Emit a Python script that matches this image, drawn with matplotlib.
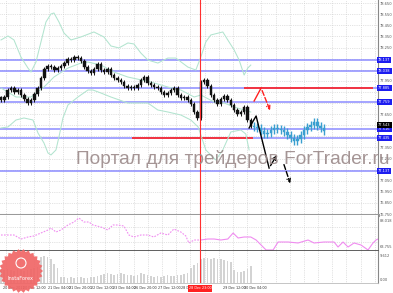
import numpy as np
import matplotlib
matplotlib.use("Agg")
import matplotlib.pyplot as plt
from matplotlib import transforms as mtrans
from matplotlib.patches import Polygon, Ellipse

# ---- данные ----
closes = [77.777, 77.804, 77.867, 77.885, 77.849, 77.867, 77.822, 77.786, 77.750, 77.777,
          77.831, 77.885, 77.975, 78.056, 78.083, 78.074, 78.047, 78.065, 78.083, 78.110,
          78.146, 78.137, 78.164, 78.155, 78.128, 78.074, 78.038, 78.020, 78.056, 78.101,
          78.047, 78.029, 78.056, 78.002, 77.975, 77.957, 77.939, 77.903, 77.885, 77.894,
          77.885, 77.912, 77.957, 77.984, 77.930, 77.912, 77.894, 77.885, 77.849, 77.822,
          77.840, 77.867, 77.885, 77.822, 77.795, 77.804, 77.777, 77.741, 77.669, 77.615,
          77.939, 77.957, 77.903, 77.822, 77.777, 77.741, 77.786, 77.813, 77.777, 77.732,
          77.687, 77.651, 77.669, 77.714, 77.597, 77.543]
forecast = [77.534, 77.525, 77.498, 77.471, 77.480, 77.507, 77.525, 77.516, 77.507, 77.489,
            77.462, 77.435, 77.408, 77.426, 77.462, 77.507, 77.534, 77.552, 77.579, 77.543,
            77.525, 77.498]
volumes = [4.2, 4.0, 4.4, 4.1, 3.8, 4.3, 4.0, 3.6, 3.9, 4.2, 4.5, 5.0,
           8.0, 8.4, 8.1, 7.4, 6.0, 4.6,
           2.0, 1.8, 1.7, 1.9, 1.6, 1.8, 2.0, 1.7, 1.6, 1.9, 1.8, 2.1,
           2.5, 2.7, 3.0, 2.8, 2.6, 2.9, 3.1, 2.8, 2.5,
           2.4, 2.2, 2.6, 3.0, 2.7, 2.4, 2.2, 2.0, 2.3,
           2.0, 2.2, 2.5, 2.3, 2.1, 2.4, 2.6, 2.8, 3.0,
           4.5, 5.5, 6.2,
           7.3, 7.6, 7.7, 7.4, 7.8, 7.5, 7.3, 7.0, 6.8, 6.4,
           4.0, 3.5, 3.3, 3.6, 4.4, 5.2]

# полосы Боллинджера: (номер бара, цена)
bb_up_x = [0, 2.1, 3.9, 6.0, 8.1, 9.0, 10.5, 12.0, 13.5, 15.0, 15.9, 17.4, 18.9, 21.0, 24.0, 27.9,
           30.9, 33.0, 35.4, 38.1, 39.9, 42.0, 44.1, 47.1, 50.1, 52.5, 56.1, 58.5, 60.0, 61.5,
           63.0, 66.6, 68.1, 70.0, 71.5, 73.0, 74.1, 75.0]
bb_up = [78.318, 78.354, 78.318, 78.164, 78.065, 78.029, 78.119, 78.300, 78.480, 78.552, 78.561,
         78.480, 78.381, 78.318, 78.345, 78.390, 78.345, 78.264, 78.246, 78.291, 78.282, 78.200,
         78.137, 78.110, 78.155, 78.155, 78.074, 78.047, 78.164, 78.300, 78.363, 78.390, 78.318,
         78.228, 78.137, 78.002, 78.065, 78.092]
bb_mid_x = [0, 4.5, 9.0, 12.9, 15.9, 20.1, 24.0, 26.1, 30.0, 33.9, 38.1, 45.0, 50.1, 54.0, 58.0,
            60.0, 64.0, 67.0, 70.0, 73.0, 75.0]
bb_mid = [77.885, 77.804, 77.804, 77.894, 77.984, 78.065, 78.110, 78.119, 78.092, 78.029, 77.984,
          77.939, 77.894, 77.867, 77.804, 77.822, 77.759, 77.750, 77.714, 77.687, 77.669]
bb_lo_x = [0, 2.1, 4.5, 6.9, 9.6, 11.1, 12.9, 14.1, 15.0, 16.5, 17.4, 18.6, 20.1, 23.1, 26.1,
           27.6, 30.0, 33.0, 38.1, 44.1, 47.1, 50.1, 54.0, 57.0, 59.2, 61.5, 64.5, 66.6, 69.0,
           72.0, 73.5, 74.5]
bb_lo = [77.525, 77.534, 77.597, 77.615, 77.597, 77.480, 77.390, 77.300, 77.282, 77.327, 77.444,
         77.615, 77.732, 77.804, 77.867, 77.867, 77.840, 77.804, 77.750, 77.750, 77.687, 77.669,
         77.642, 77.597, 77.534, 77.327, 77.237, 77.327, 77.489, 77.507, 77.471, 77.327]

levels = [78.137, 78.038, 77.885, 77.759, 77.516, 77.435, 77.137]
red_up = (77.885, 73.0, 111.7)
red_lo = (77.435, 39.3, 75.7)

# осциллятор
osc_x = [0, 2.1, 3.9, 6.0, 8.1, 9.9, 12.0, 14.1, 15.0, 16.5, 18.0, 20.1, 21.9, 23.4, 24.9, 26.4,
         27.6, 30.0, 32.1, 33.6, 35.1, 36.9, 38.4, 39.9, 42.0, 44.1, 45.9, 48.0, 50.1, 51.9,
         54.0, 55.5, 56.4, 58.0, 60.0, 62.1, 64.0, 66.0, 68.1, 69.7, 71.2, 73.0, 75.0, 76.6,
         78.1, 79.6, 81.7, 83.2, 86.2, 89.2, 92.2, 94.0, 97.0, 100.0, 101.2, 102.7, 104.2,
         106.0, 108.1, 110.2, 111.7, 112.6, 113.2]
osc = [74.54, 74.54, 74.54, 71.84, 73.19, 73.87, 75.89, 77.91, 79.26, 76.56, 77.91, 81.28, 83.30,
       85.99, 83.30, 83.30, 81.28, 79.93, 77.91, 81.28, 81.28, 80.60, 74.54, 73.19, 74.54, 74.54,
       73.19, 75.89, 74.54, 78.58, 76.56, 73.87, 69.15, 71.17, 71.17, 71.84, 71.84, 71.17, 71.84,
       75.89, 72.52, 73.19, 73.19, 71.17, 67.80, 64.43, 64.43, 69.82, 69.82, 69.15, 71.17, 69.15,
       69.82, 69.82, 66.45, 69.82, 66.45, 69.15, 67.80, 64.43, 69.15, 71.17, 71.84]

# стрелки прогноза (бар, цена)
black_path = [(74.5, 77.525), (76.6, 77.633), (80.5, 77.164), (83.2, 77.300)]
black_dash = [(84.7, 77.219), (87.1, 77.002)]
red_path = [(76.0, 77.768), (78.1, 77.885), (81.1, 77.660)]

xlabels = ["20 Dec 2011", "20 Dec 12:00", "21 Dec 04:00", "21 Dec 20:00", "22 Dec 12:00",
           "23 Dec 04:00", "26 Dec 20:00", "27 Dec 12:00", "28 Dec 04:00",
           "29 Dec 12:00", "30 Dec 04:00"]
xlabel_pos = [0.6, 6.6, 14.1, 20.4, 27.0, 33.6, 39.9, 47.1, 54.0, 66.7, 73.0]
now_bar = 59.75
now_label = "28 Dec 23:00"

W, H = 393, 293
fig = plt.figure(figsize=(W / 100, H / 100), dpi=100)


def rect(x0, y0, x1, y1):
    return [x0 / W, 1 - y1 / H, (x1 - x0) / W, (y1 - y0) / H]


ax = fig.add_axes(rect(0, 0, 378, 215))
ax_osc = fig.add_axes(rect(0, 215, 378, 251))
ax_vol = fig.add_axes(rect(0, 251, 378, 283))

XMAX = 113.2
gridx = np.arange(1.5, XMAX, 4.26)
for a in (ax, ax_osc, ax_vol):
    a.set_xlim(-0.3, XMAX)
    a.set_xticks(gridx)
    a.tick_params(axis='x', length=0, labelbottom=False)
    a.grid(True, axis='x', ls=':', color='#c8c8c8', lw=0.5)
    for s in ('left', 'top'):
        a.spines[s].set_visible(False)
    a.spines['right'].set_color('#888888')
    a.spines['right'].set_linewidth(0.8)
    a.axvline(now_bar, color='#ff3030', lw=0.8, zorder=5)

# ---- основной график ----
ax.set_ylim(76.741, 78.678)
ax.yaxis.tick_right()
yt = np.arange(76.75, 78.66, 0.1)
marks = levels + [closes[-1]]
ax.set_yticks(yt)
ax.yaxis.set_major_formatter(matplotlib.ticker.FormatStrFormatter('%.3f'))
ax.tick_params(axis='y', length=0, pad=1.5, labelsize=2.6, labelcolor='#555555')
for t, v in zip(ax.yaxis.get_major_ticks(), yt):
    if min(abs(v - m) for m in marks) < 0.05:
        t.label2.set_visible(False)
ax.grid(True, axis='y', ls=':', color='#c8c8c8', lw=0.5)
ax.spines['bottom'].set_color('#9a9a9a')
ax.spines['bottom'].set_linewidth(2.2)

for v in levels:
    ax.axhline(v, color='#8c8cff', lw=1.1, zorder=2)
ax.hlines(red_up[0], red_up[1], red_up[2], color='#ff2020', lw=1.2, zorder=3)
ax.hlines(red_lo[0], red_lo[1], red_lo[2], color='#ff2020', lw=1.2, zorder=3)

bb_col = '#b2e4cf'
ax.plot(bb_up_x, bb_up, color=bb_col, lw=0.75, zorder=3)
ax.plot(bb_mid_x, bb_mid, color=bb_col, lw=0.75, zorder=3)
ax.plot(bb_lo_x, bb_lo, color=bb_col, lw=0.75, zorder=3)


def candles(vals, first_open, start, color, wick, lw):
    c = np.array(vals)
    o = np.r_[first_open, c[:-1]]
    idx = np.arange(start, start + len(c))
    hi = np.maximum(o, c) + wick
    lo = np.minimum(o, c) - wick
    ax.vlines(idx, lo, hi, color=color, lw=lw, zorder=4)
    body = np.maximum(np.abs(c - o), 0.006)
    ax.bar(idx, body, bottom=np.minimum(o, c), width=0.75, color=color,
           edgecolor=color, lw=0.3, zorder=4)


candles(closes, 77.80, 0, '#111111', 0.014, 0.7)
candles(forecast, closes[-1], len(closes), '#3a9fd0', 0.032, 1.0)

bx, by = zip(*black_path)
ax.plot(bx[:-1], by[:-1], color='black', lw=1.0, zorder=6)
ax.annotate('', xy=black_path[-1], xytext=black_path[-2],
            arrowprops=dict(arrowstyle='->', color='black', lw=1.0, mutation_scale=6), zorder=6)
ax.annotate('', xy=black_dash[1], xytext=black_dash[0],
            arrowprops=dict(arrowstyle='->', color='black', lw=1.0, ls='--', mutation_scale=6),
            zorder=6)
ax.plot([red_path[0][0], red_path[1][0]], [red_path[0][1], red_path[1][1]],
        color='#ff2020', lw=1.0, zorder=6)
ax.annotate('', xy=red_path[2], xytext=red_path[1],
            arrowprops=dict(arrowstyle='->', color='#ff2020', lw=1.0, ls='--', mutation_scale=6),
            zorder=6)

lbl = mtrans.blended_transform_factory(ax.transAxes, ax.transData)
for v in levels:
    ax.text(1.0, v, '%.3f' % v, transform=lbl, ha='left', va='center', fontsize=2.6,
            color='white', clip_on=False, zorder=8,
            bbox=dict(boxstyle='square,pad=0.3', fc='#1c1cf0', ec='none'))
ax.text(1.0, closes[-1] + 0.012, '%.3f' % closes[-1], transform=lbl, ha='left', va='center',
        fontsize=2.6, color='white', clip_on=False, zorder=9,
        bbox=dict(boxstyle='square,pad=0.3', fc='black', ec='none'))

# ---- осциллятор ----
ax_osc.set_ylim(63.755, 88.018)
ax_osc.set_yticks([70, 80])
ax_osc.tick_params(axis='y', length=0, labelleft=False)
ax_osc.grid(True, axis='y', ls=':', color='#c8c8c8', lw=0.5)
ax_osc.spines['bottom'].set_color('#444444')
ax_osc.spines['bottom'].set_linewidth(1.2)
cut = osc_x.index(60.0)
ax_osc.plot(osc_x[:cut + 1], osc[:cut + 1], color='#f08cf0', lw=0.8, ls=(0, (1.5, 1.2)))
ax_osc.plot(osc_x[cut:], osc[cut:], color='#f08cf0', lw=0.8)
ax_osc.text(1.005, 0.84, '88.018', transform=ax_osc.transAxes, fontsize=2.6, color='#555555',
            va='center', ha='left')
ax_osc.text(1.005, 0.1, '63.755', transform=ax_osc.transAxes, fontsize=2.6, color='#555555',
            va='center', ha='left')

# ---- объёмы ----
ax_vol.set_ylim(0, 9.9)
ax_vol.set_yticks([])
ax_vol.spines['bottom'].set_color('#bbbbbb')
ax_vol.spines['bottom'].set_linewidth(0.6)
ax_vol.bar(np.arange(len(volumes)), volumes, width=0.5, color='#d3d3d3', zorder=2)
ax_vol.text(1.005, 0.84, '9.612', transform=ax_vol.transAxes, fontsize=2.6, color='#555555',
            va='center', ha='left')
ax_vol.text(1.005, 0.08, '0.00', transform=ax_vol.transAxes, fontsize=2.6, color='#555555',
            va='center', ha='left')

xt = mtrans.blended_transform_factory(ax_vol.transData, ax_vol.transAxes)
for p, t in zip(xlabel_pos, xlabels):
    ax_vol.text(p, -0.17, t, transform=xt, fontsize=2.4, color='#333333', ha='left',
                va='center', clip_on=False)
ax_vol.text(now_bar, -0.17, now_label, transform=xt, fontsize=2.4, color='white', ha='center',
            va='center', clip_on=False, zorder=9,
            bbox=dict(boxstyle='square,pad=0.35', fc='#ff2020', ec='none'))

# ---- водяной знак и логотип ----
fig.text(76 / W, 1 - 164 / H, 'Портал для трейдеров ForTrader.ru', fontsize=13.8,
         family='Liberation Sans', color='#9b8a8a', alpha=0.9, va='baseline', ha='left')

cx, cy, n = 21, 271, 26
ang = np.linspace(0, 2 * np.pi, 2 * n, endpoint=False)
rad = np.where(np.arange(2 * n) % 2 == 0, 22, 19.5)
pts = np.column_stack(((cx + rad * np.cos(ang)) / W, 1 - (cy + rad * np.sin(ang)) / H))
fig.patches.append(Polygon(pts, closed=True, transform=fig.transFigure, fc='#f06666',
                           ec='none', alpha=0.92, zorder=10))
fig.patches.append(Ellipse((cx / W, 1 - 263 / H), 10 / W, 10 / H, transform=fig.transFigure,
                           fc='none', ec='white', lw=0.8, zorder=11))
fig.text(cx / W, 1 - 279 / H, 'InstaForex', fontsize=3.6, color='white', ha='center',
         va='center', zorder=12)

fig.savefig('out.png', dpi=100)
